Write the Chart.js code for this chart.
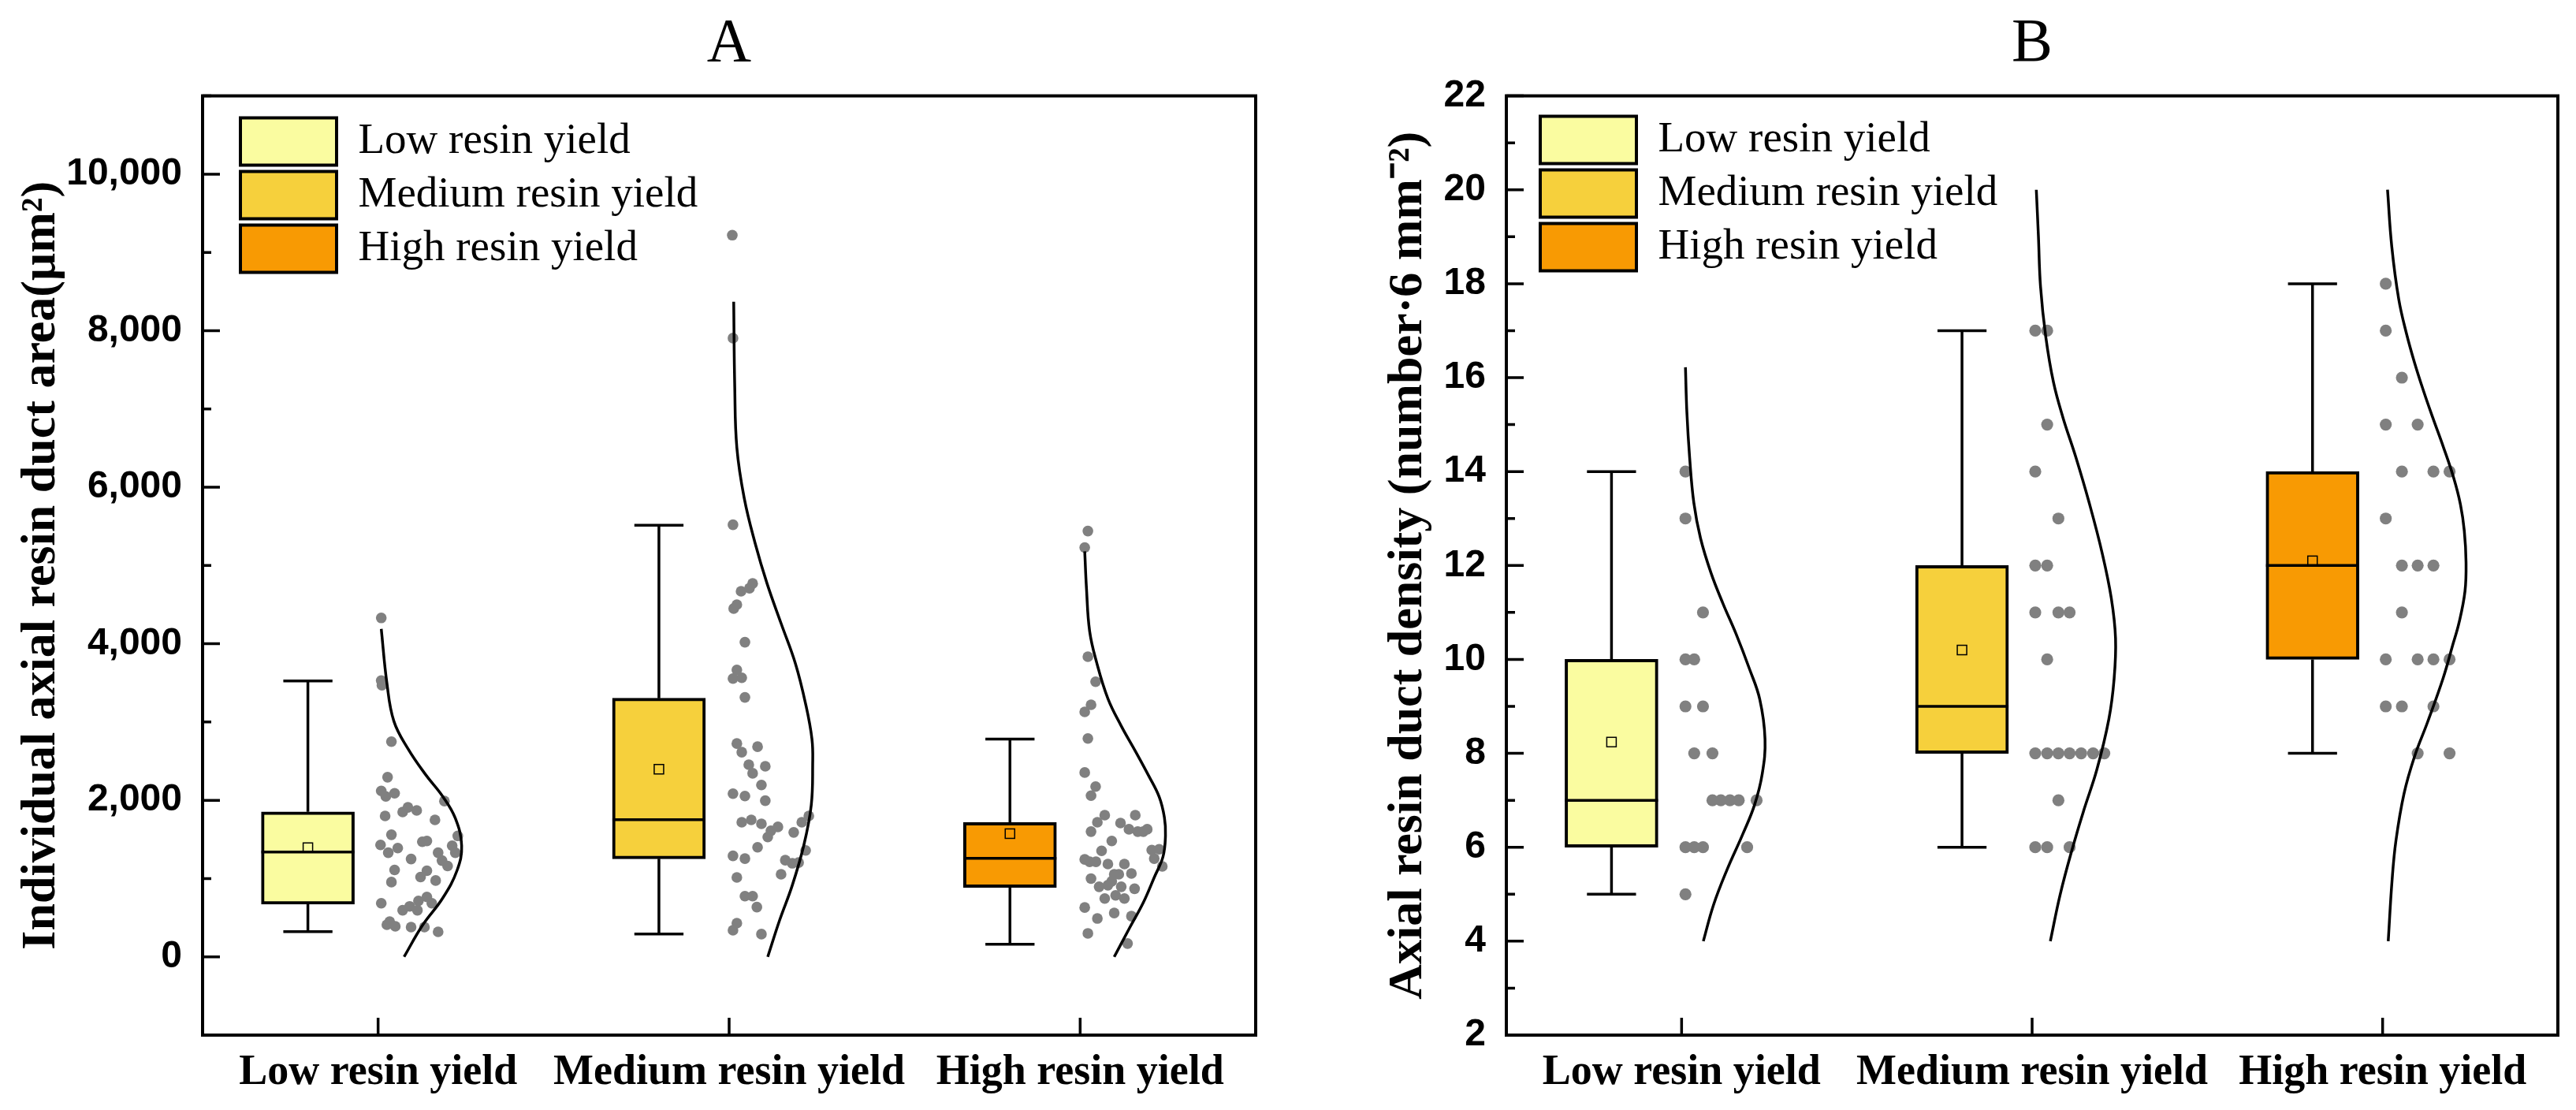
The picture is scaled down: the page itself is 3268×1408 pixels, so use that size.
<!DOCTYPE html>
<html lang="en">
<head>
<meta charset="UTF-8">
<title>Axial resin duct area and density by resin yield</title>
<script src="https://cdn.jsdelivr.net/npm/chart.js"></script>
<style>
  body { margin: 0; background: #fff; }
  .panel { position: absolute; top: 0; width: 1634px; height: 1408px; }
  #panelA { left: 0; }
  #panelB { left: 1634px; }
</style>
</head>
<body>
<div class="panel" id="panelA"><canvas id="chartA" width="1634" height="1408"></canvas></div>
<div class="panel" id="panelB"><canvas id="chartB" width="1634" height="1408"></canvas></div>

<script>
// ---- data ----
const categories = ['Low resin yield', 'Medium resin yield', 'High resin yield'];
const boxColors = ['#FAFCA0', '#F6D03C', '#F89A03'];

// Panel A: individual axial resin duct area (µm²)
const areaQ1 = [674, 1253, 886];
const areaQ3 = [1853, 3304, 1716];
const areaMedian = [1339, 1752, 1258];
const areaMean = [1395, 2397, 1574];
const areaWhiskerLow = [321, 291, 160];
const areaWhiskerHigh = [3525, 5513, 2782];
const areaTickLabels = [0, 2000, 4000, 6000, 8000, 10000];

const areaLowPoints = [4330,3530,3470,2750,2295,2120,2050,2090,1850,1910,1870,1990,1800,1750,1560,1545,1480,1470,1430,1330,1390,1420,1330,1330,1230,1160,1250,1110,1100,1020,975,955,685,595,645,715,765,595,685,410,390,450,380,380,320];
const areaLowJitter = [0.009,0.009,0.011,0.038,0.027,0.009,0.022,0.047,0.070,0.085,0.110,0.189,0.020,0.162,0.038,0.227,0.139,0.126,0.007,0.029,0.056,0.211,0.220,0.171,0.182,0.198,0.094,0.047,0.139,0.121,0.164,0.038,0.009,0.070,0.090,0.115,0.139,0.112,0.153,0.025,0.049,0.033,0.094,0.132,0.171];
const areaMedPoints = [9220,7905,5520,4770,4710,4670,4450,4500,4020,3665,3555,3565,3315,2725,2615,2685,2455,2345,2435,2195,2085,2055,1995,1720,1750,1700,1660,1610,1530,1590,1720,1800,1400,1360,1290,1255,1235,1195,1205,1055,1015,775,775,635,430,340,290];
const areaMedJitter = [0.009,0.011,0.011,0.067,0.058,0.034,0.013,0.022,0.045,0.022,0.011,0.036,0.045,0.022,0.036,0.081,0.056,0.067,0.103,0.092,0.011,0.045,0.103,0.036,0.063,0.092,0.139,0.119,0.110,0.184,0.207,0.227,0.081,0.218,0.011,0.045,0.160,0.180,0.198,0.148,0.022,0.045,0.067,0.079,0.022,0.011,0.092];
const areaHighPoints = [5440,5230,3835,3515,3220,3130,2790,2355,2175,2060,1810,1720,1600,1710,1630,1810,1600,1630,1600,1480,1355,1365,1375,1255,1155,1245,1215,1215,1185,1185,1065,1055,1055,1000,895,915,965,895,870,745,785,745,630,490,560,520,300,170];
const areaHighJitter = [0.022,0.013,0.022,0.044,0.031,0.013,0.022,0.013,0.044,0.031,0.070,0.049,0.031,0.115,0.139,0.157,0.164,0.191,0.180,0.090,0.061,0.204,0.225,0.211,0.234,0.013,0.027,0.045,0.079,0.126,0.146,0.097,0.110,0.031,0.054,0.079,0.090,0.117,0.155,0.070,0.101,0.126,0.013,0.049,0.097,0.146,0.022,0.135];

// half-violin outlines: value along y, width to the right of the tick
const areaLowCurveY = [4190,3500,3010,2660,2330,2050,1770,1420,1105,750,400,0];
const areaLowCurveW = [0.009,0.025,0.045,0.085,0.135,0.184,0.220,0.238,0.225,0.184,0.126,0.074];
const areaMedCurveY = [8370,7280,6505,5860,5285,4770,4260,3745,3230,2780,2455,1940,1430,915,470,0];
const areaMedCurveW = [0.013,0.016,0.022,0.043,0.074,0.108,0.148,0.189,0.218,0.236,0.238,0.234,0.213,0.180,0.144,0.110];
const areaHighCurveY = [5180,4705,4160,3760,3300,2950,2630,2315,2045,1780,1550,1280,1015,695,380,0];
const areaHighCurveW = [0.013,0.018,0.027,0.047,0.079,0.117,0.157,0.195,0.225,0.240,0.243,0.236,0.211,0.180,0.142,0.097];

// Panel B: axial resin duct density (number per 6 mm²)
const densQ1 = [6, 8, 10];
const densQ3 = [10, 12, 14];
const densMedian = [7, 9, 12];
const densMean = [8.24, 10.2, 12.1];
const densWhiskerLow = [5, 6, 8];
const densWhiskerHigh = [14, 17, 18];
const densTickLabels = [2, 4, 6, 8, 10, 12, 14, 16, 18, 20, 22];

const densLowPoints = [14,13,11,10,10,9,9,8,8,7,7,7,7,7,6,6,6,6,5];
const densLowJitter = [0.011,0.011,0.061,0.011,0.036,0.011,0.061,0.036,0.088,0.088,0.112,0.138,0.163,0.214,0.011,0.036,0.061,0.187,0.011];
const densMedPoints = [17,17,15,14,13,12,12,11,11,11,10,8,8,8,8,8,8,8,7,6,6,6];
const densMedJitter = [0.009,0.043,0.043,0.009,0.075,0.009,0.043,0.009,0.075,0.107,0.043,0.009,0.043,0.075,0.107,0.140,0.174,0.206,0.075,0.009,0.043,0.107];
const densHighPoints = [18,17,16,15,15,14,14,14,13,12,12,12,11,10,10,10,10,9,9,9,8,8];
const densHighJitter = [0.009,0.009,0.055,0.009,0.100,0.055,0.145,0.191,0.009,0.055,0.100,0.145,0.055,0.009,0.100,0.145,0.191,0.009,0.055,0.145,0.100,0.191];

const densLowCurveY = [16.22,15.27,14.29,13.33,12.58,11.84,11.19,10.55,9.81,9.15,8.30,7.56,6.90,6.27,5.51,4.77,4.0];
const densLowCurveW = [0.011,0.015,0.023,0.035,0.054,0.084,0.118,0.155,0.193,0.223,0.238,0.230,0.208,0.174,0.129,0.091,0.062];
const densMedCurveY = [20,19.01,17.94,16.87,15.9,15.15,14.3,13.33,12.26,11.3,10.45,9.59,8.73,7.66,6.8,5.95,4.99,4.0];
const densMedCurveW = [0.012,0.018,0.024,0.039,0.061,0.088,0.125,0.163,0.200,0.226,0.238,0.234,0.219,0.185,0.148,0.114,0.080,0.052];
const densHighCurveY = [20,18.8,17.67,16.94,16.32,15.71,15.15,14.53,13.86,13.30,12.74,12.07,11.45,10.78,10.28,9.61,8.66,7.93,7.14,6.14,5.30,4.0];
const densHighCurveW = [0.014,0.026,0.046,0.068,0.091,0.117,0.143,0.173,0.203,0.222,0.233,0.238,0.235,0.218,0.199,0.173,0.128,0.091,0.061,0.038,0.027,0.016];

// ---- drawing ----
Chart.defaults.font.family = 'Liberation Serif';
Chart.defaults.color = '#000';

const BOX_SHIFT = -0.2;   // box sits left of its category tick
const BOX_PX = 118;
const CAP_HALF = 0.07;

// whiskers, medians, means
function boxParts(s) {
  return {
    id: 'boxParts',
    beforeDatasetsDraw(chart) {
      const {ctx, scales: {x, y}} = chart;
      ctx.save();
      ctx.strokeStyle = '#000';
      ctx.lineWidth = 3.5;
      categories.forEach((c, i) => {
        const cx = x.getPixelForValue(i + 1 + BOX_SHIFT);
        const half = x.getPixelForValue(i + 1 + BOX_SHIFT + CAP_HALF) - cx;
        [[s.q3[i], s.high[i]], [s.q1[i], s.low[i]]].forEach(([from, to]) => {
          const y0 = y.getPixelForValue(from), y1 = y.getPixelForValue(to);
          ctx.beginPath();
          ctx.moveTo(cx, y0); ctx.lineTo(cx, y1);
          ctx.moveTo(cx - half, y1); ctx.lineTo(cx + half, y1);
          ctx.stroke();
        });
      });
      ctx.restore();
    },
    afterDatasetsDraw(chart) {
      const {ctx, scales: {x, y}} = chart;
      ctx.save();
      ctx.strokeStyle = '#000';
      categories.forEach((c, i) => {
        const cx = x.getPixelForValue(i + 1 + BOX_SHIFT);
        const ym = y.getPixelForValue(s.median[i]);
        ctx.lineWidth = 3.5;
        ctx.beginPath();
        ctx.moveTo(cx - BOX_PX / 2, ym); ctx.lineTo(cx + BOX_PX / 2, ym);
        ctx.stroke();
        ctx.lineWidth = 1.5;
        ctx.strokeRect(cx - 6, y.getPixelForValue(s.mean[i]) - 6, 12, 12);
      });
      ctx.restore();
    }
  };
}

// closed frame with inward ticks
function frame(majorStep) {
  return {
    id: 'frame',
    afterDraw(chart) {
      const {ctx, chartArea: a, scales: {x, y}} = chart;
      ctx.save();
      ctx.strokeStyle = '#000';
      ctx.lineWidth = 4;
      ctx.strokeRect(a.left, a.top, a.right - a.left, a.bottom - a.top);
      ctx.lineWidth = 3.5;
      ctx.beginPath();
      y.ticks.forEach(t => {
        const py = y.getPixelForValue(t.value);
        const len = (Math.round(t.value) % majorStep === 0) ? 22 : 11;
        ctx.moveTo(a.left, py); ctx.lineTo(a.left + len, py);
      });
      x.ticks.forEach(t => {
        const px = x.getPixelForValue(t.value);
        ctx.moveTo(px, a.bottom); ctx.lineTo(px, a.bottom - 22);
      });
      ctx.stroke();
      ctx.restore();
    }
  };
}

// move the in-plot legend to the upper left corner
function legendShift(dx, dy) {
  return {
    id: 'legendShift',
    afterLayout(chart) {
      const l = chart.legend, a = chart.chartArea;
      if (!l) return;
      l.left = a.left + dx; l.right = a.right;
      l.top = a.top + dy; l.bottom = a.bottom;
    }
  };
}

function makePanel(id, p) {
  const s = p.stats;
  const datasets = [];
  categories.forEach((name, i) => {
    datasets.push({
      type: 'bar', label: name,
      data: [{x: i + 1 + BOX_SHIFT, y: [s.q1[i], s.q3[i]]}],
      backgroundColor: boxColors[i], borderColor: '#000', borderWidth: 4,
      borderSkipped: false, barThickness: BOX_PX, grouped: false, order: 3
    });
  });
  categories.forEach((name, i) => {
    datasets.push({
      type: 'scatter', label: 'points',
      data: p.points[i].map((v, k) => ({x: i + 1 + p.jitter[i][k], y: v})),
      backgroundColor: '#808080', borderWidth: 0, pointRadius: p.dot, order: 2
    });
    datasets.push({
      type: 'line', label: 'curve',
      data: p.curveY[i].map((v, k) => ({x: i + 1 + p.curveW[i][k], y: v})),
      borderColor: '#000', borderWidth: 3.5, pointRadius: 0, tension: 0.4, fill: false, order: 1
    });
  });

  return new Chart(id, {
    type: 'bar',
    data: {datasets: datasets},
    options: {
      responsive: false,
      devicePixelRatio: 1,
      animation: false,
      events: [],
      layout: {padding: {left: 0, right: p.padRight, top: 0, bottom: 0}},
      plugins: {
        tooltip: {enabled: false},
        title: {
          display: true, text: p.title, fullSize: false,
          font: {size: 78, weight: 'normal'}, color: '#000',
          padding: {top: 10, bottom: 18}
        },
        legend: {
          position: 'chartArea', align: 'start',
          labels: {
            filter: item => categories.includes(item.text),
            boxWidth: 122, boxHeight: 60, padding: 8,
            color: '#000', font: {size: 55}
          }
        }
      },
      scales: {
        x: {
          type: 'linear', min: 0.5, max: 3.5, offset: false,
          afterBuildTicks: sc => { sc.ticks = categories.map((c, i) => ({value: i + 1})); },
          afterFit: sc => { sc.height = 95; },
          grid: {display: false, drawTicks: false},
          border: {display: false},
          ticks: {
            callback: v => categories[Math.round(v) - 1],
            font: {size: 54, weight: 'bold'}, color: '#000',
            padding: 16, maxRotation: 0, autoSkip: false
          }
        },
        y: {
          type: 'linear', min: p.yMin, max: p.yMax,
          afterFit: sc => { sc.width = p.yWidth; },
          grid: {display: false, drawTicks: false},
          border: {display: false},
          ticks: {
            stepSize: p.step, autoSkip: false, padding: 26, color: '#000',
            font: {family: 'Liberation Sans', size: 48, weight: 'bold'},
            callback: v => p.tickLabels.includes(v) ? v.toLocaleString('en-US') : ''
          },
          title: {
            display: true, text: p.yTitle, color: '#000',
            font: {size: 62, weight: 'bold'},
            padding: {top: p.titlePad, bottom: 0}
          }
        }
      }
    },
    plugins: [boxParts(s), frame(p.major), legendShift(p.legendDx, p.legendDy)]
  });
}

makePanel('chartA', {
  title: 'A',
  yTitle: 'Individual axial resin duct area(μm²)',
  yMin: -1000, yMax: 11000, step: 1000, major: 2000,
  tickLabels: areaTickLabels,
  yWidth: 257, padRight: 41, titlePad: 16,
  legendDx: 40, legendDy: 20,
  dot: 6.8,
  stats: {q1: areaQ1, q3: areaQ3, median: areaMedian, mean: areaMean, low: areaWhiskerLow, high: areaWhiskerHigh},
  points: [areaLowPoints, areaMedPoints, areaHighPoints],
  jitter: [areaLowJitter, areaMedJitter, areaHighJitter],
  curveY: [areaLowCurveY, areaMedCurveY, areaHighCurveY],
  curveW: [areaLowCurveW, areaMedCurveW, areaHighCurveW]
});

makePanel('chartB', {
  title: 'B',
  yTitle: 'Axial resin duct density (number·6 mm⁻²)',
  yMin: 2, yMax: 22, step: 1, major: 2,
  tickLabels: densTickLabels,
  yWidth: 277, padRight: 23, titlePad: 116,
  legendDx: 35, legendDy: 18,
  dot: 7.6,
  stats: {q1: densQ1, q3: densQ3, median: densMedian, mean: densMean, low: densWhiskerLow, high: densWhiskerHigh},
  points: [densLowPoints, densMedPoints, densHighPoints],
  jitter: [densLowJitter, densMedJitter, densHighJitter],
  curveY: [densLowCurveY, densMedCurveY, densHighCurveY],
  curveW: [densLowCurveW, densMedCurveW, densHighCurveW]
});
</script>
</body>
</html>
